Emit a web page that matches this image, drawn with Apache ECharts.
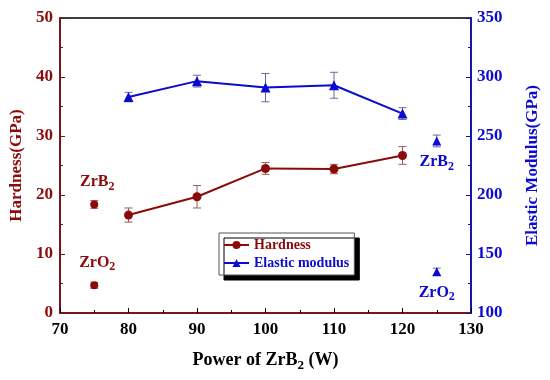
<!DOCTYPE html>
<html><head><meta charset="utf-8">
<script src="https://cdn.jsdelivr.net/npm/echarts@6/dist/echarts.min.js"></script>
<style>html,body{margin:0;padding:0;background:#fff}#c{width:550px;height:380px}</style>
</head><body><div id="c"></div>
<script>
const power = [80, 90, 100, 110, 120];
const hardness = [16.6, 19.7, 24.5, 24.4, 26.7];
const hardnessErr = [1.2, 1.9, 1.0, 0.8, 1.5];
const modulus = [283, 296.5, 291, 293, 269];
const modulusErr = [4, 5, 12, 11, 5];
const refX = 75;
const refHardness = [18.4, 4.7];      // ZrB2, ZrO2
const refHardnessErr = [0.65, 0.5];
const refX2 = 125;
const refModulus = [245.8, 135];      // ZrB2, ZrO2
const refModulusErr = [5, 3];
const refNames = ['ZrB', 'ZrO'];

const RED = '#8b0a0a', BLUE = '#0a0ad0';
const FONT = 'Liberation Serif';

function errSeries(name, xs, ys, es, yIdx, color) {
  return {
    name: name, type: 'custom', yAxisIndex: yIdx, z: 1,
    data: xs.map((x, i) => [x, ys[i] - es[i], ys[i] + es[i]]),
    renderItem: function (params, api) {
      const lo = api.coord([api.value(0), api.value(1)]);
      const hi = api.coord([api.value(0), api.value(2)]);
      const w = 4;
      const st = { stroke: color, lineWidth: 1 };
      return { type: 'group', children: [
        { type: 'line', shape: { x1: lo[0], y1: lo[1], x2: hi[0], y2: hi[1] }, style: st },
        { type: 'line', shape: { x1: lo[0] - w, y1: lo[1], x2: lo[0] + w, y2: lo[1] }, style: st },
        { type: 'line', shape: { x1: hi[0] - w, y1: hi[1], x2: hi[0] + w, y2: hi[1] }, style: st }
      ]};
    }
  };
}

function rich(color) {
  return {
    b: { fontFamily: FONT, fontWeight: 'bold', fontSize: 16, color: color },
    s: { fontFamily: FONT, fontWeight: 'bold', fontSize: 12, color: color, padding: [9, 0, 0, 0] }
  };
}

const chart = echarts.init(document.getElementById('c'));
chart.setOption({
  animation: false,
  textStyle: { fontFamily: FONT },
  grid: { left: 60, right: 79, top: 18, bottom: 67, containLabel: false, outerBoundsMode: 'none',
    show: true, borderColor: '#000', borderWidth: 1.5 },
  legend: {
    data: [
      { name: 'Hardness', textStyle: { color: RED } },
      { name: 'Elastic modulus', textStyle: { color: BLUE } }
    ],
    orient: 'vertical', left: 219, top: 233,
    itemWidth: 25, itemHeight: 10, itemGap: 4,
    padding: [5, 5, 5, 4],
    backgroundColor: '#fff', borderColor: '#555', borderWidth: 1,
    shadowColor: '#000', shadowOffsetX: 5, shadowOffsetY: 5, shadowBlur: 0,
    textStyle: { fontFamily: FONT, fontWeight: 'bold', fontSize: 14 }
  },
  xAxis: {
    type: 'value', min: 70, max: 130, interval: 10,
    name: '{b|Power of ZrB}{s|2}{b| (W)}', nameLocation: 'middle', nameGap: 36,
    nameTextStyle: { rich: {
      b: { fontFamily: FONT, fontWeight: 'bold', fontSize: 18, color: '#000' },
      s: { fontFamily: FONT, fontWeight: 'bold', fontSize: 13, color: '#000', padding: [10, 0, 0, 0] } } },
    axisLine: { lineStyle: { color: RED, width: 1.5 } },
    axisTick: { inside: true, length: 5, lineStyle: { color: '#000' } },
    minorTick: { show: true, splitNumber: 2, length: 3, lineStyle: { color: '#000' } },
    axisLabel: { color: '#000', fontFamily: FONT, fontWeight: 'bold', fontSize: 17, margin: 8 },
    splitLine: { show: false }
  },
  yAxis: [{
    type: 'value', min: 0, max: 50, interval: 10, position: 'left',
    name: 'Hardness(GPa)', nameLocation: 'middle', nameGap: 34,
    nameTextStyle: { color: RED, fontFamily: FONT, fontWeight: 'bold', fontSize: 17 },
    axisLine: { show: true, lineStyle: { color: RED, width: 1.5 } },
    axisTick: { inside: true, length: 5, lineStyle: { color: RED } },
    minorTick: { show: true, splitNumber: 2, length: 3, lineStyle: { color: RED } },
    axisLabel: { color: RED, fontFamily: FONT, fontWeight: 'bold', fontSize: 17, margin: 7 },
    splitLine: { show: false }
  }, {
    type: 'value', min: 100, max: 350, interval: 50, position: 'right',
    name: 'Elastic Modulus(GPa)', nameLocation: 'middle', nameGap: 53, nameRotate: 90,
    nameTextStyle: { color: BLUE, fontFamily: FONT, fontWeight: 'bold', fontSize: 17 },
    axisLine: { show: true, lineStyle: { color: BLUE, width: 1.5 } },
    axisTick: { inside: true, length: 5, lineStyle: { color: BLUE } },
    minorTick: { show: true, splitNumber: 2, length: 3, lineStyle: { color: BLUE } },
    axisLabel: { color: BLUE, fontFamily: FONT, fontWeight: 'bold', fontSize: 17, margin: 6 },
    splitLine: { show: false }
  }],
  series: [
    errSeries('hErr', power, hardness, hardnessErr, 0, '#9a5a5a'),
    errSeries('mErr', power, modulus, modulusErr, 1, '#6a6a9a'),
    errSeries('hRefErr', [refX, refX], refHardness, refHardnessErr, 0, '#9a5a5a'),
    errSeries('mRefErr', [refX2, refX2], refModulus, refModulusErr, 1, '#6a6a9a'),
    {
      name: 'Hardness', type: 'line', yAxisIndex: 0, z: 3,
      data: power.map((x, i) => [x, hardness[i]]),
      symbol: 'circle', symbolSize: 9,
      lineStyle: { color: RED, width: 2 }, itemStyle: { color: RED }
    },
    {
      name: 'Elastic modulus', type: 'line', yAxisIndex: 1, z: 3,
      data: power.map((x, i) => [x, modulus[i]]),
      symbol: 'triangle', symbolSize: 10,
      lineStyle: { color: BLUE, width: 2 }, itemStyle: { color: BLUE }
    },
    {
      name: 'hRef', type: 'scatter', yAxisIndex: 0, z: 3,
      data: refHardness.map((v, i) => ({ value: [refX, v], name: refNames[i] })),
      symbol: 'circle', symbolSize: 8, itemStyle: { color: RED, opacity: 1 },
      label: { show: true, position: 'top', distance: 8, offset: [3, 0],
        formatter: p => '{b|' + p.name + '}{s|2}', rich: rich(RED) }
    },
    {
      name: 'mRef', type: 'scatter', yAxisIndex: 1, z: 3,
      data: refModulus.map((v, i) => ({ value: [refX2, v], name: refNames[i] })),
      symbol: 'triangle', symbolSize: 9, itemStyle: { color: BLUE, opacity: 1 },
      label: { show: true, position: 'bottom', distance: 6,
        formatter: p => '{b|' + p.name + '}{s|2}', rich: rich(BLUE) }
    }
  ]
});
</script></body></html>
